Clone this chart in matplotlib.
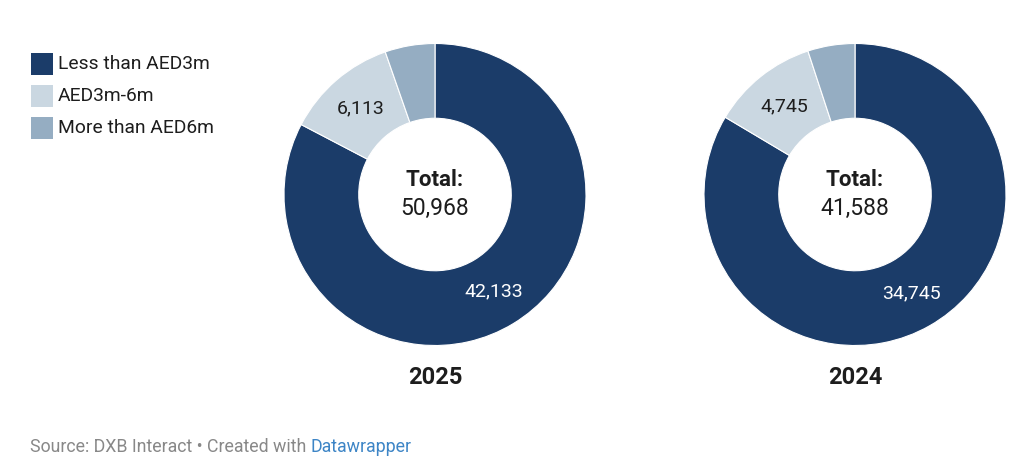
import matplotlib
matplotlib.use('Agg')
import matplotlib.pyplot as plt
from matplotlib.patches import Rectangle
import numpy as np

plt.rcParams['font.family'] = ['Roboto', 'DejaVu Sans']

categories = ['Less than AED3m', 'AED3m-6m', 'More than AED6m']
colors = ['#1b3c69', '#cad7e1', '#95adc2']
years = ['2025', '2024']
values_2025 = [42133, 6113, 2722]
values_2024 = [34745, 4745, 2098]
totals = [50968, 41588]

W, H = 1024, 472
fig = plt.figure(figsize=(W / 100, H / 100), dpi=100)

def px_axes(cx, cy, r):
    # cx, cy in pixels from top-left
    return fig.add_axes([(cx - r) / W, (H - cy - r) / H, 2 * r / W, 2 * r / H])

centers = [(435, 194.5), (855, 194.5)]
R = 151
for vals, total, year, (cx, cy) in zip([values_2025, values_2024], totals, years, centers):
    ax = px_axes(cx, cy, R)
    ax.pie(vals, colors=colors, startangle=90, counterclock=False, radius=1,
           wedgeprops=dict(width=0.495, edgecolor='white', linewidth=0.8))
    ax.set_xlim(-1, 1)
    ax.set_ylim(-1, 1)
    ax.set_aspect('equal')
    ax.axis('off')
    # value labels for the two larger slices, at mid-ring radius
    s = sum(vals)
    start = 0.0
    for i, v in enumerate(vals):
        frac = v / s
        mid = (start + frac / 2) * 2 * np.pi
        start += frac
        if i == 2:
            continue
        rr = 0.75
        x, y = rr * np.sin(mid), rr * np.cos(mid)
        ax.text(x, y, f'{v:,}', ha='center', va='center', fontsize=14,
                color='white' if i == 0 else '#1d1d1d')
    ax.text(0, 0.095, 'Total:', ha='center', va='center', fontsize=16, fontweight='bold', color='#1d1d1d')
    ax.text(0, -0.09, f'{total:,}', ha='center', va='center', fontsize=16.5, color='#1d1d1d')
    fig.text(cx / W, 1 - 378 / H, year, ha='center', va='center', fontsize=17,
             fontweight='bold', color='#1d1d1d')

# legend
for i, (lab, col) in enumerate(zip(categories, colors)):
    y = 64 + i * 32
    fig.patches.append(Rectangle(((31) / W, 1 - (y + 11) / H), 22 / W, 22 / H,
                                 transform=fig.transFigure, facecolor=col, edgecolor='none'))
    fig.text(58 / W, 1 - y / H, lab, ha='left', va='center', fontsize=13.9, color='#1d1d1d')

# footer
t1 = fig.text(30 / W, 1 - 447 / H, 'Source: DXB Interact \u2022 Created with ', ha='left', va='center',
              fontsize=12.8, color='#888888')
fig.canvas.draw()
bb = t1.get_window_extent()
fig.text(bb.x1 / W, 1 - 447 / H, 'Datawrapper', ha='left', va='center', fontsize=12.8, color='#3d85c6')

fig.savefig('out.png', dpi=100, facecolor='white')
